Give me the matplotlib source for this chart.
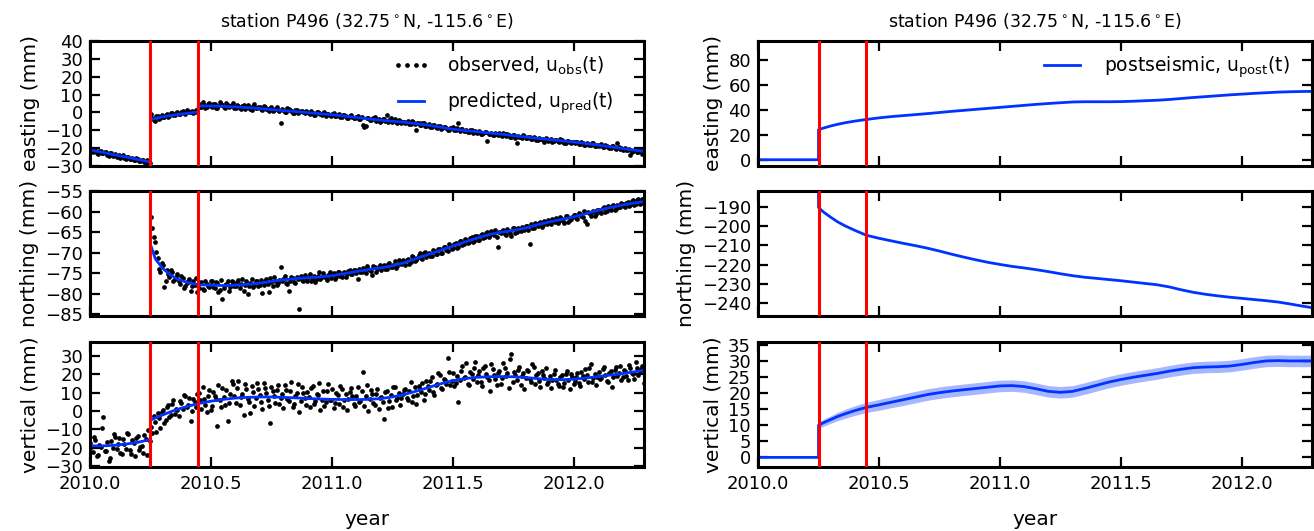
import numpy as np
import matplotlib
matplotlib.use('Agg')
import matplotlib.pyplot as plt

# ---- event times (red lines) ----
event_times = [2010.25, 2010.447]

# ---- observations: two interleaved sets, each sampled every 4 days ----
obs_t_a = 2010.0 + np.arange(210) * 4 / 365.25
obs_t_b = 2010.0 + (np.arange(209) * 4 + 2) / 365.25

obs_east_a = [
    -20.6, -22.3, -21.1, -23.5, -21.4, -22.9, -22.1, -24.2, -22.8, -23.6, -25.1, -23.9,
    -24.3, -25.6, -24.8, -26.2, -25.4, -26.9, -26.1, -27.3, -26.5, -28.1, -27.4,
    -0.8, -4.1, -2.2, -3.6, -1.4, -2.5, -0.9, -1.9, -0.3, -1.6, 0.2, -1.1, 0.6, -0.7,
    0.9, 0.3, -0.4, 1.1,
    4.8, 2.9, 4.1, 3.2, 5.3,
    3.0, 4.6, 2.7, 5.6, 3.9, 2.4, 4.3, 3.5, 5.1,
    2.6, 3.8, 1.9, 4.4, 2.8, 3.3, 1.6, 4.7, 2.5,
    2.9, 1.3, 3.2, 1.7, 2.4, 0.6, 2.0, 1.4, -5.9,
    1.6, 0.2, 1.9, 0.7, -0.3, 1.3, 0.1, 0.8, -0.6,
    0.5, -0.9, -0.2, -1.4, 0.3, -1.0, -0.5, -1.8, -0.7,
    -1.9, -0.6, -2.2, -1.1, -2.7, -1.5, -3.0, -2.0, -2.4,
    -3.3, -2.1, -3.6, -6.8, -7.4, -2.9, -4.2, -3.1, -4.7, -3.6,
    -4.9, -3.5, -1.6, -4.4, -5.2, -3.9, -5.8, -4.6, -5.1,
    -6.0, -4.8, -6.4, -5.3, -9.8, -6.1, -7.2, -5.9, -7.6,
    -6.6, -8.1, -7.3, -8.6, -7.8, -9.0, -8.3, -9.6, -8.7,
    -8.4, -10.1, -5.9, -9.3, -10.6, -9.7, -11.2, -10.0, -10.9,
    -11.5, -10.3, -12.0, -11.1, -15.8, -11.9, -12.6, -11.3, -12.4,
    -12.8, -11.7, -13.2, -12.5, -13.9, -12.9, -16.9, -13.5, -14.2,
    -13.3, -14.6, -13.9, -15.1, -14.2, -15.6, -14.8, -15.3, -14.5,
    -15.9, -14.9, -16.2, -15.4, -16.6, -15.7, -17.1, -16.1, -16.8, -16.3,
    -17.2, -16.4, -17.8, -16.9, -18.3, -17.5, -18.0, -17.4, -18.6,
    -18.9, -17.9, -19.3, -18.6, -20.1, -19.0, -19.8, -16.9, -20.5,
    -20.8, -19.7, -21.3, -23.9, -21.6, -20.9, -22.4, -21.5, -22.6,
]
obs_east_b = [
    -21.8, -20.9, -22.6, -21.7, -23.0, -22.2, -23.8, -22.9, -24.4, -23.2, -24.6, -25.3,
    -24.1, -26.0, -25.2, -25.9, -26.7, -25.8, -27.0, -26.4, -27.8, -26.9, -28.3,
    -3.2, -4.6, -1.8, -3.0, -2.7, -1.2, -2.3, -0.6, -1.3, -0.1, -0.9, 0.4, -0.2, 1.3,
    0.2, 0.8, 0.0, 0.6,
    3.3, 5.6, 2.4, 4.5, 3.8,
    4.9, 2.2, 3.7, 4.8, 2.9, 5.2, 3.1, 4.0, 2.7,
    4.1, 2.3, 3.5, 2.1, 4.2, 1.8, 3.6, 2.4, 3.0,
    1.8, 3.5, 2.1, 0.9, 2.8, 1.5, 3.0, 0.7, 1.9,
    0.4, 2.2, 1.1, -0.2, 1.5, -0.5, 0.9, 0.3, 1.0,
    -0.6, 0.7, -1.2, 0.1, -0.4, -1.5, 0.2, -1.1, -1.6,
    -0.9, -2.0, -1.2, -2.5, -1.7, -2.1, -2.9, -1.6, -3.2,
    -2.6, -3.9, -2.5, -7.9, -3.4, -4.5, -3.7, -2.4, -4.0, -5.1,
    -3.8, -4.6, -5.5, -3.3, -4.8, -5.6, -4.3, -6.1, -5.4,
    -5.2, -6.7, -5.0, -6.6, -6.2, -7.0, -6.0, -7.8, -6.8,
    -7.9, -6.8, -8.4, -7.6, -9.3, -8.0, -8.8, -9.9, -8.5,
    -9.7, -9.0, -10.4, -9.5, -10.2, -11.0, -9.9, -11.3, -10.5,
    -10.9, -12.2, -11.4, -10.8, -12.3, -11.6, -12.9, -12.0, -11.8,
    -13.4, -12.3, -12.0, -13.6, -12.7, -14.1, -13.2, -13.8, -12.9,
    -14.3, -13.6, -14.8, -14.0, -15.4, -14.5, -15.0, -16.3, -15.1,
    -15.5, -16.3, -15.2, -16.0, -15.1, -16.4, -16.9, -15.8, -17.3, -16.5,
    -16.8, -17.6, -16.6, -18.1, -17.3, -18.5, -17.1, -18.8, -18.0,
    -18.4, -19.6, -18.2, -19.1, -19.7, -18.8, -20.3, -19.5, -20.0,
    -20.4, -21.1, -20.3, -21.9, -21.2, -22.0, -21.0, -23.1,
]

nan = np.nan
obs_north_a = [
    # before the event the northing values are off the plotted range
    nan, nan, nan, nan, nan, nan, nan, nan, nan, nan, nan, nan,
    nan, nan, nan, nan, nan, nan, nan, nan, nan, nan, nan,
    -61.4, -66.2, -69.8, -73.9, -72.6, -78.4, -74.1, -75.9, -74.8, -76.5, -75.3, -77.6,
    -76.2, -78.1, -76.8, -79.4, -77.0, -76.1,
    -78.6, -77.2, -79.1, -77.5, -78.3,
    -76.9, -78.7, -77.4, -79.0, -81.2, -77.8, -76.8, -78.4, -77.1,
    -78.2, -76.7, -77.6, -79.3, -77.0, -78.0, -76.5, -77.8, -76.9,
    -77.9, -79.8, -76.8, -77.5, -76.2, -78.1, -76.9, -77.3, -73.6,
    -76.3, -77.4, -79.4, -76.0, -77.1, -75.8, -83.6, -76.7, -75.5,
    -76.8, -75.3, -76.4, -77.2, -75.7, -76.5, -74.9, -76.1, -75.4,
    -76.2, -75.0, -75.9, -74.8, -76.0, -74.6, -75.3, -74.2, -75.1,
    -74.1, -76.5, -74.8, -73.7, -75.0, -73.9, -74.4, -73.2, -74.6, -73.5,
    -74.2, -73.1, -73.9, -72.6, -73.5, -72.0, -73.3, -72.4, -71.8,
    -72.9, -71.6, -72.3, -71.0, -71.9, -70.6, -71.4, -70.2, -71.1,
    -70.0, -70.9, -69.6, -70.4, -69.1, -70.0, -68.7, -69.6, -68.3,
    -68.9, -67.6, -68.5, -67.2, -68.0, -66.8, -67.5, -66.3, -67.2,
    -66.0, -66.9, -65.5, -66.3, -64.9, -65.8, -65.2, -64.6, -68.7,
    -65.3, -64.4, -65.6, -64.8, -65.9, -64.1, -65.0, -64.5, -63.8,
    -64.6, -63.5, -68.0, -63.9, -62.8, -63.6, -62.5, -63.3, -62.6,
    -62.0, -63.1, -62.3, -61.5, -62.4, -61.7, -62.9, -61.2, -62.0, -61.4,
    -60.8, -61.8, -60.5, -61.3, -62.2, -60.2, -61.0, -59.8, -60.6,
    -59.5, -60.3, -58.9, -59.8, -59.1, -58.6, -59.6, -58.4, -59.0,
    -58.1, -59.0, -57.6, -58.5, -57.3, -58.2, -57.0, -58.0, -57.4,
]
obs_north_b = [
    nan, nan, nan, nan, nan, nan, nan, nan, nan, nan, nan, nan,
    nan, nan, nan, nan, nan, nan, nan, nan, nan, nan, nan,
    -64.0, -67.3, -71.2, -74.6, -73.0, -76.9, -75.2, -74.3, -77.0, -75.8, -76.9, -75.6,
    -78.6, -77.3, -76.4, -78.0, -77.8, -79.5,
    -77.4, -78.9, -76.8, -78.0, -77.0,
    -78.3, -77.1, -79.5, -76.6, -78.5, -77.5, -79.2, -76.9, -78.0,
    -77.2, -78.6, -76.4, -77.9, -80.0, -77.3, -78.4, -77.0, -78.2,
    -76.7, -77.9, -76.3, -79.5, -77.2, -75.9, -77.8, -76.6, -77.0,
    -75.7, -77.6, -76.8, -76.1, -77.4, -76.5, -75.6, -77.0, -76.2,
    -75.9, -76.9, -75.6, -76.3, -74.8, -76.0, -75.7, -76.6, -74.6,
    -75.5, -76.3, -74.7, -75.6, -74.9, -75.9, -74.5, -75.2, -74.3,
    -75.0, -73.9, -74.7, -74.0, -73.3, -74.3, -75.4, -73.6, -74.0, -72.9,
    -73.4, -74.0, -72.8, -73.6, -72.9, -73.8, -71.7, -72.8, -72.1,
    -71.9, -72.7, -70.7, -72.0, -71.2, -70.0, -71.5, -69.9, -70.6,
    -70.8, -69.4, -70.3, -69.0, -70.0, -68.5, -69.3, -68.0, -69.0,
    -67.9, -68.8, -67.1, -68.1, -66.7, -67.7, -66.5, -67.4, -66.0,
    -66.8, -65.7, -66.4, -65.1, -66.1, -64.8, -65.6, -66.2, -64.9,
    -64.7, -65.5, -64.2, -65.1, -64.0, -65.3, -63.9, -64.8, -64.2,
    -63.4, -64.4, -63.0, -64.1, -63.1, -62.7, -63.8, -62.2, -63.0,
    -62.7, -61.8, -62.6, -62.9, -61.3, -62.3, -61.0, -62.5, -61.7, -60.9,
    -61.5, -60.3, -61.1, -59.9, -63.0, -60.4, -60.0, -61.2, -59.6,
    -60.1, -59.2, -60.0, -58.7, -59.5, -58.3, -59.3, -58.8, -57.9,
    -58.6, -57.8, -58.7, -57.5, -58.4, -57.2, -58.1, -56.9,
]

obs_vert_a = [
    -17.2, -22.5, -15.8, -24.1, -19.6, -3.1, -21.8, -27.4, -16.5, -12.3, -20.9, -14.7,
    -23.6, -18.2, -11.8, -21.3, -16.0, -24.4, -13.5, -19.7, -22.8, -15.1, -10.6,
    -8.9, -2.6, -11.7, -4.1, -0.8, -6.3, 1.9, -3.2, 3.8, -1.5, 0.6, 5.2, 1.1, 7.9,
    3.0, -5.4, 6.4, 2.1,
    9.8, 1.2, 6.7, -0.5, 11.3,
    2.8, 8.4, -8.1, 5.9, 12.6, 3.4, -5.6, 9.1, 14.8,
    4.2, 16.1, 7.5, -2.3, 11.9, 5.0, 13.7, 2.6, 15.2,
    8.8, 0.9, 12.4, 6.1, -6.4, 10.7, 4.3, 14.1, 7.2,
    1.8, 11.5, 5.6, 15.9, 3.9, 9.6, -0.8, 12.8, 6.9,
    10.2, 2.4, 13.5, 5.3, 8.7, 0.3, 11.1, 4.6, 14.9,
    6.0, 1.5, 9.9, 3.7, 12.2, 5.8, 0.7, 10.4, 7.9,
    2.9, 13.1, 5.2, 21.3, 8.3, 0.2, 11.6, 4.1, 9.4, 1.3,
    7.7, -4.2, 10.9, 5.5, 2.0, 12.9, 6.8, 3.3, 9.2,
    12.1, 5.9, 15.6, 8.0, 3.6, 13.8, 10.5, 6.2, 16.3,
    11.4, 18.2, 8.6, 14.7, 19.5, 12.0, 17.1, 28.9, 13.9,
    20.4, 15.3, 4.6, 22.0, 17.8, 25.9, 14.2, 19.9, 23.1,
    16.0, 21.7, 13.4, 24.6, 18.5, 10.9, 22.8, 17.2, 20.6,
    14.8, 26.2, 18.9, 12.3, 31.1, 21.4, 16.6, 24.0, 19.2,
    11.7, 22.5, 17.5, 25.3, 14.6, 20.8, 13.0, 19.4, 23.6,
    15.9, 12.4, 20.1, 17.0, 13.8, 19.6, 15.2, 21.9, 11.8, 18.3,
    16.4, 20.7, 13.6, 18.9, 22.6, 15.5, 25.8, 17.7, 14.1,
    21.2, 18.0, 23.9, 16.2, 20.5, 13.3, 22.1, 19.0, 24.7,
    18.6, 21.8, 16.9, 23.3, 20.0, 26.4, 19.3, 22.7, 15.4,
]
obs_vert_b = [
    -19.8, -14.2, -24.7, -18.6, -9.4, -22.0, -16.9, -25.5, -20.3, -13.9, -18.0, -22.9,
    -15.4, -20.6, -12.7, -23.2, -17.4, -14.6, -21.5, -18.8, -12.9, -24.0, -16.2,
    -12.1, -6.0, -0.9, -9.5, 0.4, -4.8, 3.1, -2.1, 6.2, 0.8, -3.0, 4.4, 8.6, 2.2,
    6.8, 0.1, 4.9, 9.3,
    5.7, 12.9, 3.3, 8.1, 0.6,
    10.4, 6.3, 14.2, 1.9, 7.8, 11.6, 4.5, 16.4, 8.2,
    12.7, 3.0, 9.4, 14.5, 6.6, -1.2, 10.1, 7.3, 12.0,
    4.9, 15.1, 9.7, 2.7, 13.3, 7.9, 11.2, 3.6, 9.0,
    13.9, 6.4, 10.8, 2.1, 8.3, 14.6, 5.2, 9.8, 3.1,
    7.4, 12.6, 4.0, 9.1, 15.0, 6.2, 2.5, 10.7, 5.7,
    11.8, 4.4, 8.5, 13.6, 2.0, 9.3, 6.7, 12.5, 3.8,
    8.0, 5.1, 10.8, 2.7, 14.0, 6.5, 9.0, 3.2, 12.2, 7.1,
    4.6, 10.3, 1.6, 8.9, 13.0, 5.8, 9.9, 7.0, 11.5,
    6.9, 10.6, 4.8, 13.2, 8.7, 11.8, 15.1, 9.3, 13.6,
    16.5, 10.2, 14.0, 20.7, 12.6, 17.4, 14.9, 21.3, 16.2,
    13.7, 19.1, 16.7, 24.5, 18.4, 14.9, 21.0, 17.6, 26.6,
    19.3, 15.6, 23.4, 20.2, 16.8, 25.5, 19.8, 14.3, 21.5,
    17.9, 23.1, 20.5, 28.4, 15.8, 19.7, 22.3, 13.9, 20.9,
    18.1, 21.6, 15.7, 23.8, 19.3, 16.4, 22.0, 17.8, 14.4,
    19.0, 16.8, 22.2, 14.9, 18.4, 13.1, 20.3, 16.6, 19.9, 14.7,
    18.5, 15.2, 21.4, 17.3, 19.7, 23.5, 16.0, 20.1, 18.2,
    17.4, 22.8, 19.6, 15.9, 21.7, 18.3, 24.1, 20.6, 17.0,
    22.4, 19.2, 25.0, 20.8, 17.6, 23.6, 21.1, 24.3,
]

# ---- model curves (times repeat at the jumps) ----
line_t = [
    2010.0, 2010.05, 2010.1, 2010.15, 2010.2, 2010.25,
    2010.25, 2010.27, 2010.3, 2010.33, 2010.36, 2010.4, 2010.447,
    2010.447, 2010.5, 2010.55, 2010.6, 2010.65, 2010.7, 2010.75, 2010.8, 2010.85, 2010.9,
    2010.95, 2011.0, 2011.05, 2011.1, 2011.15, 2011.2, 2011.25, 2011.3, 2011.35, 2011.4,
    2011.45, 2011.5, 2011.55, 2011.6, 2011.65, 2011.7, 2011.75, 2011.8, 2011.85, 2011.9,
    2011.95, 2012.0, 2012.05, 2012.1, 2012.15, 2012.2, 2012.25, 2012.29,
]

pred_east = [
    -21.0, -22.3, -23.7, -25.0, -26.4, -27.8,
    -4.0, -3.3, -2.5, -1.8, -1.2, -0.5, 0.2,
    3.6, 3.6, 3.4, 3.1, 2.7, 2.2, 1.6, 1.0, 0.5, -0.1,
    -0.7, -1.3, -2.0, -2.8, -3.6, -4.3, -4.9, -5.5, -6.3, -7.2,
    -8.3, -9.4, -10.1, -10.8, -11.5, -12.2, -13.0, -13.8, -14.5, -15.2,
    -15.9, -16.6, -17.4, -18.3, -19.2, -20.2, -21.1, -21.8,
]
pred_north = [
    nan, nan, nan, nan, nan, nan,
    -68.0, -71.5, -73.8, -75.3, -76.4, -77.2, -77.8,
    -77.8, -77.9, -78.0, -77.9, -77.7, -77.4, -77.0, -76.6, -76.3, -76.1,
    -75.9, -75.6, -75.1, -74.6, -74.1, -73.7, -73.2, -72.4, -71.4, -70.4,
    -69.4, -68.4, -67.4, -66.4, -65.6, -65.0, -64.6, -64.0, -63.2, -62.5,
    -61.9, -61.3, -60.5, -59.7, -59.0, -58.4, -57.9, -57.6,
]
pred_vert = [
    -19.0, -19.0, -18.7, -18.0, -17.0, -15.5,
    -5.0, -3.8, -2.2, -0.6, 0.8, 2.4, 4.0,
    4.0, 5.3, 6.3, 7.0, 7.4, 7.6, 7.6, 7.4, 7.1, 6.8,
    6.5, 6.3, 6.2, 6.2, 6.3, 6.7, 7.6, 9.0, 10.8, 12.8,
    14.8, 16.5, 17.6, 18.3, 18.6, 18.7, 18.6, 18.2, 17.6, 17.1,
    17.0, 17.3, 17.9, 18.7, 19.5, 20.3, 21.3, 22.1,
]

post_east = [
    0, 0, 0, 0, 0, 0,
    24.0, 25.3, 27.0, 28.4, 29.6, 30.9, 32.2,
    32.2, 33.5, 34.5, 35.3, 36.1, 36.9, 37.8, 38.7, 39.5, 40.3,
    41.1, 41.9, 42.7, 43.5, 44.3, 45.0, 45.6, 46.2, 46.4, 46.4,
    46.4, 46.5, 46.8, 47.2, 47.6, 48.2, 49.0, 49.8, 50.5, 51.2,
    51.9, 52.5, 53.1, 53.6, 54.1, 54.4, 54.6, 54.7,
]
post_north = [
    0, 0, 0, 0, 0, 0,
    -190.5, -192.8, -195.5, -198.0, -200.0, -202.3, -204.8,
    -204.8, -206.4, -207.7, -209.0, -210.2, -211.5, -213.0, -214.6, -216.1, -217.5,
    -218.8, -219.9, -220.9, -221.7, -222.6, -223.6, -224.7, -225.7, -226.5, -227.1,
    -227.7, -228.3, -229.0, -229.7, -230.4, -231.5, -233.0, -234.3, -235.3, -236.1,
    -236.8, -237.4, -238.0, -238.6, -239.3, -240.3, -241.4, -242.2,
]
post_vert = [
    0, 0, 0, 0, 0, 0,
    10.0, 10.8, 11.8, 12.8, 13.6, 14.6, 15.6,
    15.6, 16.4, 17.2, 18.0, 18.8, 19.6, 20.2, 20.7, 21.1, 21.5,
    21.9, 22.3, 22.4, 22.1, 21.4, 20.6, 20.3, 20.6, 21.5, 22.5,
    23.5, 24.3, 25.0, 25.6, 26.2, 26.9, 27.5, 28.0, 28.2, 28.3,
    28.5, 29.0, 29.6, 30.1, 30.2, 30.1, 30.1, 30.1,
]
# one-sigma band for the vertical postseismic signal
post_vert_sig = [
    0, 0, 0, 0, 0, 0,
    1.0, 1.1, 1.2, 1.3, 1.4, 1.5, 1.6,
    1.6, 1.7, 1.7, 1.8, 1.8, 1.8, 1.8, 1.8, 1.8, 1.8,
    1.8, 1.8, 1.8, 1.8, 1.8, 1.8, 1.8, 1.8, 1.8, 1.8,
    1.8, 1.8, 1.8, 1.8, 1.8, 1.8, 1.8, 1.8, 1.8, 1.8,
    1.8, 1.8, 1.8, 1.8, 1.8, 1.8, 1.8, 1.8,
]

title = r'station P496 (32.75$^\circ$N, -115.6$^\circ$E)'
blue = '#0033ff'
red = '#ff0000'

plt.rcParams.update({
    'font.family': 'DejaVu Sans',
    'font.size': 13,
    'mathtext.default': 'regular',
    'axes.linewidth': 2.2,
    'xtick.direction': 'in', 'ytick.direction': 'in',
    'xtick.top': True, 'ytick.right': True,
    'xtick.major.size': 7, 'ytick.major.size': 7,
    'xtick.major.width': 1.6, 'ytick.major.width': 1.6,
    'xtick.major.pad': 6, 'ytick.major.pad': 5,
    'xtick.labelsize': 13, 'ytick.labelsize': 13,
    'axes.labelsize': 14.5,
})

fig = plt.figure(figsize=(13.14, 5.31), dpi=100)
lefts = [0.0685, 0.5769]
bottoms = [0.6874, 0.4049, 0.1205]
w, h = 0.4216, 0.2354
axl = [fig.add_axes([lefts[0], b, w, h]) for b in bottoms]
axr = [fig.add_axes([lefts[1], b, w, h]) for b in bottoms]

obs_a = [obs_east_a, obs_north_a, obs_vert_a]
obs_b = [obs_east_b, obs_north_b, obs_vert_b]
pred = [pred_east, pred_north, pred_vert]
post = [post_east, post_north, post_vert]
labels = ['easting (mm)', 'northing (mm)', 'vertical (mm)']
ylim_l = [(-30, 40), (-85.4, -55), (-30.5, 37.5)]
yticks_l = [np.arange(-30, 41, 10), np.arange(-85, -54, 5), np.arange(-30, 31, 10)]
ylim_r = [(-5, 95), (-246.5, -182), (-3, 36)]
yticks_r = [np.arange(0, 81, 20), np.arange(-240, -189, 10), np.arange(0, 36, 5)]

for k in range(3):
    ax = axl[k]
    ax.plot(obs_t_a, obs_a[k], 'o', color='k', ms=3.4, mec='none',
            label=r'observed, u$_{obs}$(t)')
    ax.plot(obs_t_b, obs_b[k], 'o', color='k', ms=3.4, mec='none')
    ax.plot(line_t, pred[k], '-', color=blue, lw=2, label=r'predicted, u$_{pred}$(t)')
    for te in event_times:
        ax.axvline(te, color=red, lw=2.2, zorder=5)
    ax.set_ylim(*ylim_l[k])
    ax.set_yticks(yticks_l[k])
    ax.set_ylabel(labels[k])

    ax = axr[k]
    if k == 2:
        lo = np.array(post_vert) - np.array(post_vert_sig)
        hi = np.array(post_vert) + np.array(post_vert_sig)
        ax.fill_between(line_t, lo, hi, color=blue, alpha=0.35, lw=0)
    ax.plot(line_t, post[k], '-', color=blue, lw=2, label=r'postseismic, u$_{post}$(t)')
    for te in event_times:
        ax.axvline(te, color=red, lw=2.2, zorder=5)
    ax.set_ylim(*ylim_r[k])
    ax.set_yticks(yticks_r[k])
    ax.set_ylabel(labels[k])

for ax in axl + axr:
    ax.set_xlim(2010.0, 2012.29)
    ax.set_xticks([2010.0, 2010.5, 2011.0, 2011.5, 2012.0])
    ax.minorticks_off()
for ax in axl[:2] + axr[:2]:
    ax.set_xticklabels([])
for ax in [axl[2], axr[2]]:
    ax.set_xticklabels(['2010.0', '2010.5', '2011.0', '2011.5', '2012.0'])
    ax.set_xlabel('year', labelpad=12)

axl[0].set_title(title, fontsize=12.5, pad=10)
axr[0].set_title(title, fontsize=12.5, pad=10)
axl[0].legend(loc='upper right', bbox_to_anchor=(0.958, 0.95), borderaxespad=0,
              frameon=False, numpoints=4, handlelength=2.0, handletextpad=0.9,
              fontsize=13.5, labelspacing=0.7)
axr[0].legend(loc='upper right', bbox_to_anchor=(0.974, 0.95), borderaxespad=0,
              frameon=False, handlelength=1.9, handletextpad=1.3, fontsize=13.5)

fig.align_ylabels(axl)
fig.align_ylabels(axr)
fig.savefig('out.png', dpi=100)
